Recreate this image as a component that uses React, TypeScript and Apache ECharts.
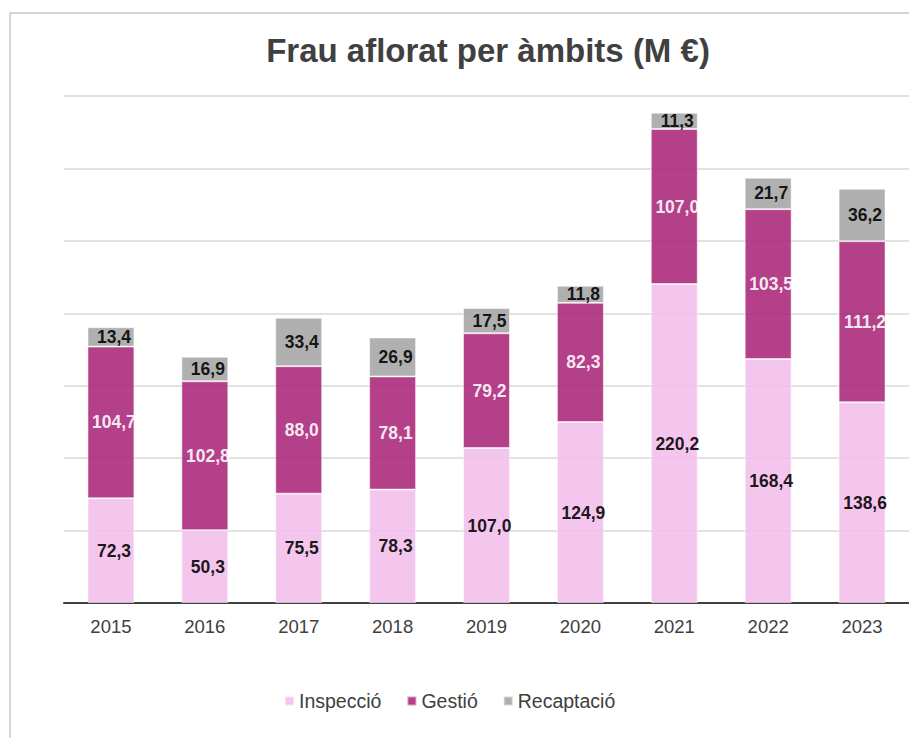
import React, { useEffect, useRef } from "react";
import * as echarts from "echarts";

const years = ["2015", "2016", "2017", "2018", "2019", "2020", "2021", "2022", "2023"];
const inspeccio = [72.3, 50.3, 75.5, 78.3, 107.0, 124.9, 220.2, 168.4, 138.6];
const gestio = [104.7, 102.8, 88.0, 78.1, 79.2, 82.3, 107.0, 103.5, 111.2];
const recaptacio = [13.4, 16.9, 33.4, 26.9, 17.5, 11.8, 11.3, 21.7, 36.2];

const fmt = (p: any) => Number(p.value).toFixed(1).replace(".", ",");
const FONT = "Liberation Sans, Arial, sans-serif";

export default function App() {
  const ref = useRef<HTMLDivElement>(null);
  useEffect(() => {
    document.body.style.margin = "0";
    const chart = echarts.init(ref.current!, null, { renderer: "svg" });
    const labelBase = {
      show: true,
      position: "inside" as const,
      formatter: fmt,
      fontFamily: FONT,
      fontSize: 17.5,
      fontWeight: "bold" as const,
      offset: [3, 0],
    };
    const border = { borderColor: "rgba(255,255,255,0.55)", borderWidth: 1, opacity: 0.9 };
    chart.setOption({
      animation: false,
      backgroundColor: "#ffffff",
      title: {
        text: "Frau aflorat per àmbits (M €)",
        left: 483,
        textAlign: "center",
        top: 29,
        textStyle: { fontFamily: FONT, fontSize: 33, fontWeight: "bold", color: "#404040" },
      },
      graphic: [
        {
          type: "rect",
          shape: { x: 10, y: 13, width: 930, height: 760 },
          style: { fill: "none", stroke: "#c8c8c8", lineWidth: 1.5 },
          silent: true,
          z: -1,
        },
      ],
      legend: {
        top: 686,
        left: 279,
        itemWidth: 9,
        itemHeight: 9,
        itemGap: 25,
        icon: "rect",
        textStyle: { fontFamily: FONT, fontSize: 19.5, color: "#404040" },
        data: ["Inspecció", "Gestió", "Recaptació"],
      },
      grid: { left: 64, width: 864, top: 96, height: 507 },
      xAxis: {
        type: "category",
        data: years,
        axisLine: { lineStyle: { color: "#404040", width: 2 } },
        axisTick: { show: false },
        axisLabel: { fontFamily: FONT, fontSize: 18.5, color: "#404040", margin: 14 },
      },
      yAxis: {
        type: "value",
        min: 0,
        max: 350,
        interval: 50,
        axisLabel: { show: false },
        axisLine: { show: false },
        axisTick: { show: false },
        splitLine: { lineStyle: { color: "#d9d9d9", width: 1.5 } },
      },
      series: [
        {
          name: "Inspecció",
          type: "bar",
          stack: "total",
          data: inspeccio,
          barWidth: "50%",
          itemStyle: { color: "#F3C0EC", ...border },
          label: { ...labelBase, color: "#000000" },
        },
        {
          name: "Gestió",
          type: "bar",
          stack: "total",
          data: gestio,
          itemStyle: { color: "#AD2B7D", ...border },
          label: { ...labelBase, color: "#ffffff" },
        },
        {
          name: "Recaptació",
          type: "bar",
          stack: "total",
          data: recaptacio,
          itemStyle: { color: "#A7A7A7", ...border },
          label: { ...labelBase, color: "#000000" },
        },
      ],
    });
    return () => chart.dispose();
  }, []);
  return <div ref={ref} style={{ width: 909, height: 738, position: "absolute", left: 0, top: 0 }} />;
}
